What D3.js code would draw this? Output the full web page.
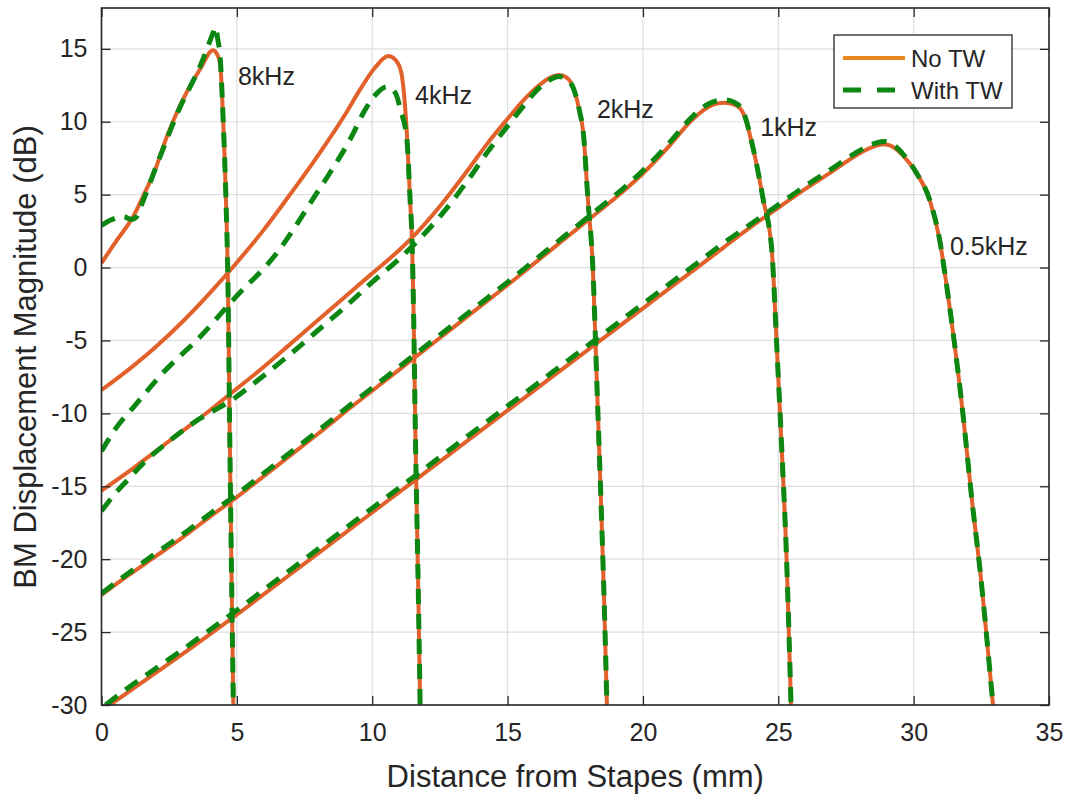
<!DOCTYPE html>
<html>
<head>
  <meta charset="utf-8">
  <title>BM Displacement Magnitude</title>
  <script src="https://d3js.org/d3.v7.min.js"></script>
  <style>
    body { margin: 0; background: #fff; }
    text { font-family: "Liberation Sans", Arial, Helvetica, sans-serif; fill: #262626; }
  </style>
</head>
<body>
<div id="vis"></div>
<script>
// ---- data (x = mm from stapes, y = dB) ----
// 8 kHz
var x8k_no = [0, 0.5, 1, 1.17, 1.54, 2, 2.4, 2.8, 3.14, 3.64, 4.12, 4.25, 4.38, 4.49, 4.6, 4.67, 4.74, 4.81, 4.87];
var y8k_no = [0.3, 1.7, 3.0, 3.5, 4.9, 6.8, 8.9, 10.7, 12.0, 13.6, 14.9, 14.7, 14.0, 10.3, 4.5, -1, -12, -22, -30];
var x8k_tw = [0, 0.4, 0.8, 1.1, 1.3, 1.54, 2.16, 2.9, 3.64, 4.12, 4.2, 4.3, 4.38, 4.49, 4.6, 4.67, 4.74, 4.81, 4.87];
var y8k_tw = [2.9, 3.3, 3.5, 3.3, 3.5, 4.6, 7.6, 11.0, 13.8, 16.1, 16.5, 15.6, 14.5, 10.3, 4.5, -1, -12, -22, -30];
// 4 kHz
var x4k_no = [0, 1, 2, 3, 4, 5, 6, 7, 8, 9, 9.55, 10.1, 10.6, 10.95, 11.1, 11.28, 11.4, 11.47, 11.52, 11.6, 11.7, 11.77];
var y4k_no = [-8.4, -7.0, -5.45, -3.7, -1.75, 0.35, 2.6, 5.1, 7.7, 10.5, 12.2, 13.7, 14.5, 14.0, 13.1, 9.2, 4.6, 1.9, -2.2, -12, -22, -30];
var x4k_tw = [0, 0.5, 1.17, 2.28, 3.64, 4.87, 6.48, 7.95, 8.44, 9.3, 9.67, 10.2, 10.55, 10.85, 11.05, 11.28, 11.4, 11.47, 11.52, 11.6, 11.7, 11.77];
var y4k_tw = [-12.6, -11.1, -9.6, -7.2, -4.75, -2.2, 1.0, 5.1, 6.5, 9.2, 10.6, 12.0, 12.4, 12.0, 10.8, 8.8, 4.6, 1.9, -2.2, -12, -22, -30];
// 2 kHz
var x2k_no = [0, 1, 2, 3, 4, 4.8, 6, 7, 8, 9, 10, 11, 11.5, 12.5, 13.5, 14.25, 15, 15.6, 16.1, 16.5, 16.9, 17.2, 17.45, 17.65, 17.8, 17.97, 18.15, 18.3, 18.45, 18.57, 18.67];
var y2k_no = [-15.3, -14.0, -12.6, -11.2, -9.8, -8.6, -6.8, -5.2, -3.6, -2.0, -0.4, 1.2, 2.1, 4.2, 6.6, 8.5, 10.2, 11.5, 12.4, 12.95, 13.2, 13.0, 12.2, 10.8, 9.2, 4.6, 0, -8, -16, -23, -30];
var x2k_tw = [0, 0.5, 1, 1.5, 2.5, 3.6, 4.8, 6, 7, 8, 9, 10, 11, 11.5, 12.5, 13.5, 14.25, 15, 15.6, 16.1, 16.5, 16.9, 17.2, 17.45, 17.65, 17.8, 17.97, 18.15, 18.3, 18.45, 18.57, 18.67];
var y2k_tw = [-16.7, -15.5, -14.5, -13.5, -11.9, -10.4, -9.1, -7.4, -5.9, -4.3, -2.7, -1.0, 0.6, 1.5, 3.5, 5.9, 7.9, 9.7, 11.1, 12.2, 12.8, 13.1, 12.9, 12.2, 10.8, 9.2, 4.6, 0, -8, -16, -23, -30];
// 1 kHz
var x1k_no = [0, 1, 2, 3, 4, 5, 6, 7, 8, 9, 10, 11, 12, 13, 14, 15, 16, 17, 18, 19, 20, 21, 21.8, 22.4, 23.0, 23.4, 23.7, 24.08, 24.45, 24.76, 24.95, 25.13, 25.32, 25.47];
var y1k_no = [-22.45, -21.1, -19.8, -18.5, -17.1, -15.75, -14.3, -12.85, -11.4, -9.9, -8.45, -7.0, -5.55, -4.1, -2.65, -1.2, 0.3, 1.8, 3.3, 4.8, 6.45, 8.4, 10.1, 11.0, 11.3, 11.15, 10.6, 8.1, 4.6, 1.2, -5.6, -12.5, -20.7, -30];
var x1k_tw = [0, 1, 2, 3, 4, 5, 6, 7, 8, 9, 10, 11, 12, 13, 14, 15, 16, 17, 18, 19, 20, 21, 21.8, 22.4, 23.0, 23.4, 23.7, 24.08, 24.45, 24.76, 24.95, 25.13, 25.32, 25.47];
var y1k_tw = [-22.35, -20.95, -19.6, -18.3, -16.9, -15.55, -14.1, -12.65, -11.2, -9.7, -8.25, -6.8, -5.35, -3.9, -2.45, -1.0, 0.5, 2.0, 3.5, 5.0, 6.65, 8.6, 10.3, 11.2, 11.5, 11.3, 10.7, 8.1, 4.6, 1.2, -5.6, -12.5, -20.7, -30];
// 0.5 kHz
var x05k_no = [0.31, 1, 2, 3, 4, 5, 6, 7, 8, 9, 10, 11, 12, 13, 14, 15, 16, 17, 18, 19, 20, 21, 22, 23, 24, 25, 26, 27, 27.8, 28.4, 28.9, 29.3, 29.6, 30.1, 30.6, 30.97, 31.2, 31.46, 31.83, 32.15, 32.45, 32.93];
var y05k_no = [-30, -29.1, -27.8, -26.5, -25.15, -23.8, -22.4, -21.0, -19.6, -18.2, -16.8, -15.4, -14.0, -12.6, -11.2, -9.8, -8.4, -7.0, -5.6, -4.2, -2.8, -1.4, 0.0, 1.4, 2.8, 4.1, 5.4, 6.6, 7.6, 8.2, 8.45, 8.2, 7.7, 6.5, 4.6, 1.8, -1, -4.5, -10.2, -15.9, -20.7, -30];
var x05k_tw = [0.15, 1, 2, 3, 4, 5, 6, 7, 8, 9, 10, 11, 12, 13, 14, 15, 16, 17, 18, 19, 20, 21, 22, 23, 24, 25, 26, 27, 27.8, 28.4, 28.9, 29.3, 29.6, 30.1, 30.6, 30.97, 31.2, 31.46, 31.83, 32.15, 32.45, 32.93];
var y05k_tw = [-30, -28.8, -27.5, -26.2, -24.85, -23.5, -22.1, -20.7, -19.3, -17.9, -16.5, -15.1, -13.7, -12.3, -10.9, -9.5, -8.1, -6.7, -5.3, -3.9, -2.5, -1.1, 0.3, 1.7, 3.0, 4.3, 5.6, 6.8, 7.8, 8.4, 8.65, 8.35, 7.8, 6.5, 4.6, 1.8, -1, -4.5, -10.2, -15.9, -20.7, -30];

var freqLabels = ["8kHz", "4kHz", "2kHz", "1kHz", "0.5kHz"];
var labelX = [5.04, 11.58, 18.3, 24.33, 31.34];
var labelY = [13.15, 11.8, 10.9, 9.65, 1.45];

var xTicks = [0, 5, 10, 15, 20, 25, 30, 35];
var yTicks = [-30, -25, -20, -15, -10, -5, 0, 5, 10, 15];
var seriesNames = ["No TW", "With TW"];

var noTW = [[x8k_no, y8k_no], [x4k_no, y4k_no], [x2k_no, y2k_no], [x1k_no, y1k_no], [x05k_no, y05k_no]];
var withTW = [[x8k_tw, y8k_tw], [x4k_tw, y4k_tw], [x2k_tw, y2k_tw], [x1k_tw, y1k_tw], [x05k_tw, y05k_tw]];

// ---- layout ----
var width = 1075, height = 800;
var plotL = 101.5, plotR = 1049, plotT = 8, plotB = 705;
var orange = "#e2612b", legendOrange = "#e8891f", green = "#0b8712";

var svg = d3.select("#vis").append("svg")
  .attr("width", width)
  .attr("height", height);

svg.append("rect").attr("width", width).attr("height", height).attr("fill", "#fff");

var x = d3.scaleLinear().domain([0, 35]).range([plotL, plotR]);
var y = d3.scaleLinear().domain([-30, 17.8]).range([plotB, plotT]);

// grid
svg.append("g").selectAll("line").data(xTicks).enter().append("line")
  .attr("x1", function (d) { return x(d); }).attr("x2", function (d) { return x(d); })
  .attr("y1", plotT).attr("y2", plotB)
  .attr("stroke", "#dedede").attr("stroke-width", 1.2);
svg.append("g").selectAll("line").data(yTicks).enter().append("line")
  .attr("y1", function (d) { return y(d); }).attr("y2", function (d) { return y(d); })
  .attr("x1", plotL).attr("x2", plotR)
  .attr("stroke", "#dedede").attr("stroke-width", 1.2);

// curves
svg.append("clipPath").attr("id", "clip").append("rect")
  .attr("x", plotL).attr("y", plotT).attr("width", plotR - plotL).attr("height", plotB - plotT);

var line = d3.line()
  .x(function (d) { return x(d[0]); })
  .y(function (d) { return y(d[1]); })
  .curve(d3.curveMonotoneX);

function pairs(s) { return s[0].map(function (v, i) { return [v, s[1][i]]; }); }

var plot = svg.append("g").attr("clip-path", "url(#clip)");
plot.selectAll("path.no").data(noTW).enter().append("path")
  .attr("class", "no")
  .attr("d", function (s) { return line(pairs(s)); })
  .attr("fill", "none").attr("stroke", orange).attr("stroke-width", 4);
plot.selectAll("path.tw").data(withTW).enter().append("path")
  .attr("class", "tw")
  .attr("d", function (s) { return line(pairs(s)); })
  .attr("fill", "none").attr("stroke", green).attr("stroke-width", 5)
  .attr("stroke-dasharray", "15,10");

// axes (box with inward ticks on all sides), plain hyphen minus like the original
var tickLen = 9;
var fmt = function (d) { return String(d); };
var xAxisB = d3.axisBottom(x).tickValues(xTicks).tickFormat(fmt).tickSizeInner(-tickLen).tickSizeOuter(0).tickPadding(18);
var xAxisT = d3.axisTop(x).tickValues(xTicks).tickSizeInner(-tickLen).tickSizeOuter(0).tickFormat("");
var yAxisL = d3.axisLeft(y).tickValues(yTicks).tickFormat(fmt).tickSizeInner(-tickLen).tickSizeOuter(0).tickPadding(14);
var yAxisR = d3.axisRight(y).tickValues(yTicks).tickSizeInner(-tickLen).tickSizeOuter(0).tickFormat("");

function styleAxis(g) {
  g.select(".domain").remove();
  g.selectAll(".tick line").attr("stroke", "#262626").attr("stroke-width", 1.3);
  g.selectAll(".tick text").attr("font-size", 25).attr("fill", "#262626")
    .style("font-family", "'Liberation Sans', Arial, Helvetica, sans-serif");
}
svg.append("g").attr("transform", "translate(0," + plotB + ")").call(xAxisB).call(styleAxis);
svg.append("g").attr("transform", "translate(0," + plotT + ")").call(xAxisT).call(styleAxis);
svg.append("g").attr("transform", "translate(" + plotL + ",0)").call(yAxisL).call(styleAxis);
svg.append("g").attr("transform", "translate(" + plotR + ",0)").call(yAxisR).call(styleAxis);

svg.append("rect")
  .attr("x", plotL).attr("y", plotT).attr("width", plotR - plotL).attr("height", plotB - plotT)
  .attr("fill", "none").attr("stroke", "#262626").attr("stroke-width", 1.6);

// axis labels
svg.append("text")
  .attr("x", (plotL + plotR) / 2).attr("y", 787)
  .attr("text-anchor", "middle").attr("font-size", 31)
  .text("Distance from Stapes (mm)");
svg.append("text")
  .attr("transform", "translate(36," + 357 + ") rotate(-90)")
  .attr("text-anchor", "middle").attr("font-size", 31)
  .text("BM Displacement Magnitude (dB)");

// frequency annotations
svg.append("g").selectAll("text").data(freqLabels).enter().append("text")
  .attr("x", function (d, i) { return x(labelX[i]); })
  .attr("y", function (d, i) { return y(labelY[i]); })
  .attr("dy", "0.36em")
  .attr("font-size", 25)
  .text(function (d) { return d; });

// legend
var lg = svg.append("g").attr("transform", "translate(834,35)");
lg.append("rect").attr("width", 178).attr("height", 73)
  .attr("fill", "#fff").attr("stroke", "#262626").attr("stroke-width", 1.3);
var items = lg.selectAll("g").data(seriesNames).enter().append("g")
  .attr("transform", function (d, i) { return "translate(0," + (23 + i * 32) + ")"; });
items.append("line")
  .attr("x1", 9).attr("x2", 71).attr("y1", 0).attr("y2", 0)
  .attr("stroke", function (d, i) { return i === 0 ? legendOrange : green; })
  .attr("stroke-width", function (d, i) { return i === 0 ? 4 : 5; })
  .attr("stroke-dasharray", function (d, i) { return i === 0 ? null : "18,16"; });
items.append("text")
  .attr("x", 77).attr("dy", "0.36em").attr("font-size", 24)
  .text(function (d) { return d; });
</script>
</body>
</html>
